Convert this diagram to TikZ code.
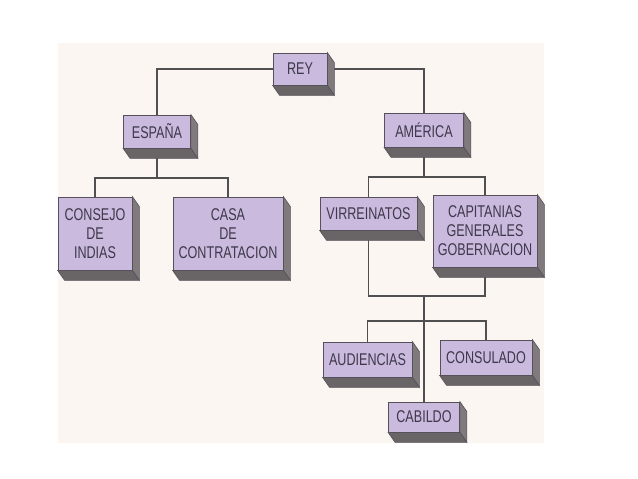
\documentclass[tikz,border=0pt]{standalone}
\usepackage{fontspec}
\setmainfont[FakeStretch=0.74]{Liberation Sans}
\usetikzlibrary{backgrounds}
\definecolor{panel}{RGB}{252,246,243}
\definecolor{boxfill}{RGB}{201,186,222}
\definecolor{boxline}{RGB}{85,80,90}
\definecolor{sidegray}{RGB}{128,122,124}
\definecolor{bottomgray}{RGB}{105,100,102}
\definecolor{textcol}{RGB}{62,56,74}
\definecolor{linkcol}{RGB}{80,80,82}
\tikzstyle{entity} = [rectangle, inner sep=1pt, text centered, align=center, draw=boxline, line width=0.8pt, fill=boxfill, text=textcol, font=\fontsize{17}{19}\selectfont]
\tikzstyle{link} = [linkcol, line width=1.7pt]
\newcommand{\extrude}[1]{%
  \fill[sidegray, draw=boxline, line width=0.6pt] (#1.north east) -- ++(7,10) -- ([shift={(7,10)}]#1.south east) -- (#1.south east) -- cycle;
  \fill[bottomgray, draw=boxline, line width=0.6pt] (#1.south west) -- ++(7,10) -- ([shift={(7,10)}]#1.south east) -- (#1.south east) -- cycle;}
\begin{document}
\begin{tikzpicture}[x=1pt,y=-1pt]
\useasboundingbox (0,0) rectangle (638,479);
% boxes
\node[entity, minimum width=54pt, minimum height=32pt] (rey) at (300,69) {REY};
\node[entity, minimum width=67pt, minimum height=33pt] (espana) at (157,131.5) {ESPAÑA};
\node[entity, minimum width=79pt, minimum height=34pt] (america) at (424,130) {AMÉRICA};
\node[entity, minimum width=74pt, minimum height=73pt] (consejo) at (95,233.5) {CONSEJO\\DE\\INDIAS};
\node[entity, minimum width=110pt, minimum height=73pt] (casa) at (228,233.5) {CASA\\DE\\CONTRATACION};
\node[entity, minimum width=97pt, minimum height=33pt] (virre) at (368.5,213.5) {VIRREINATOS};
\node[entity, minimum width=104pt, minimum height=72pt] (capit) at (485,231) {CAPITANIAS\\GENERALES\\GOBERNACION};
\node[entity, minimum width=89pt, minimum height=35pt] (audi) at (367.5,359.5) {AUDIENCIAS};
\node[entity, minimum width=92pt, minimum height=35pt] (consul) at (486,357.5) {CONSULADO};
\node[entity, minimum width=71pt, minimum height=30pt] (cabildo) at (424,417) {CABILDO};
% connectors
\coordinate (espjoin) at (espana.south |- 0,178);
\coordinate (amjoin) at (america.south |- 0,177);
\coordinate (lowjoin) at (cabildo.north |- 0,296);
\coordinate (midjoin) at (cabildo.north |- 0,321);
\begin{scope}[on background layer]
\fill[panel] (58,43) rectangle (544,443);
\draw[link] (rey.west) -| (espana.north);
\draw[link] (rey.east) -| (america.north);
\draw[link] (espana.south) -- (espjoin);
\draw[link] (consejo.north) |- (espjoin) -| (casa.north);
\draw[link] (america.south) -- (amjoin);
\draw[link] (virre.north) |- (amjoin) -| (capit.north);
\draw[link] (virre.south) |- (lowjoin) -| (capit.south);
\draw[link] (lowjoin) -- (cabildo.north);
\draw[link] (audi.north) |- (midjoin) -| (consul.north);
\foreach \n in {rey,espana,america,consejo,casa,virre,capit,audi,consul,cabildo}
  \extrude{\n};
\end{scope}
\end{tikzpicture}
\end{document}
